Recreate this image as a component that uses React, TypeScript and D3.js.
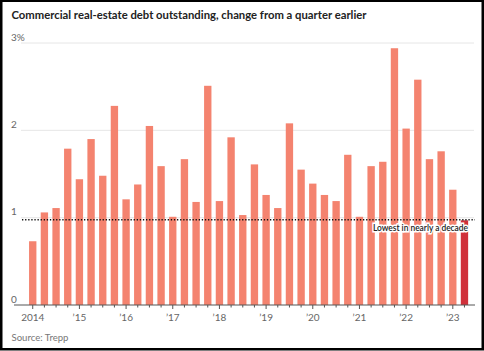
import React, { useEffect, useRef } from 'react';
import * as d3 from 'd3';

// quarterly change in CRE debt outstanding, %, 2014 Q1 .. 2023 Q2
const quarters = [
  '2014 Q1', '2014 Q2', '2014 Q3', '2014 Q4',
  '2015 Q1', '2015 Q2', '2015 Q3', '2015 Q4',
  '2016 Q1', '2016 Q2', '2016 Q3', '2016 Q4',
  '2017 Q1', '2017 Q2', '2017 Q3', '2017 Q4',
  '2018 Q1', '2018 Q2', '2018 Q3', '2018 Q4',
  '2019 Q1', '2019 Q2', '2019 Q3', '2019 Q4',
  '2020 Q1', '2020 Q2', '2020 Q3', '2020 Q4',
  '2021 Q1', '2021 Q2', '2021 Q3', '2021 Q4',
  '2022 Q1', '2022 Q2', '2022 Q3', '2022 Q4',
  '2023 Q1', '2023 Q2',
];
const changes = [
  0.73, 1.06, 1.11, 1.79,
  1.44, 1.9, 1.48, 2.28,
  1.21, 1.38, 2.05, 1.59,
  1.01, 1.67, 1.18, 2.51,
  1.19, 1.92, 1.03, 1.61,
  1.26, 1.11, 2.08, 1.55,
  1.39, 1.26, 1.19, 1.72,
  1.01, 1.59, 1.64, 2.94,
  2.02, 2.58, 1.67, 1.76,
  1.32, 0.97,
];
const yearLabels = ['2014', '’15', '’16', '’17', '’18', '’19', '’20', '’21', '’22', '’23'];
const yTicks = [0, 1, 2, 3];
const title = 'Commercial real-estate debt outstanding, change from a quarter earlier';
const source = 'Source: Trepp';
const note = 'Lowest in nearly a decade';

const App = () => {
  const svgRef = useRef<SVGSVGElement>(null);

  useEffect(() => {
    const svg = d3.select(svgRef.current);
    svg.selectAll('*').remove();

    const width = 484;
    const height = 351;
    const font = 'Lato, "Noto Sans", sans-serif';

    svg.append('rect')
      .attr('width', width)
      .attr('height', height)
      .attr('fill', '#fff');

    const x = d3.scaleBand()
      .domain(quarters)
      .range([26.9, 470.3])
      .paddingInner(0.37)
      .paddingOuter(0.185);

    const y = d3.scaleLinear()
      .domain([0, 3])
      .range([305, 43]);

    // gridlines + y labels
    svg.append('g')
      .selectAll('line')
      .data(yTicks.filter(d => d > 0))
      .enter()
      .append('line')
      .attr('x1', 21)
      .attr('x2', 474)
      .attr('y1', d => y(d))
      .attr('y2', d => y(d))
      .attr('stroke', '#e6e6e6')
      .attr('stroke-width', 1);

    svg.append('g')
      .selectAll('text')
      .data(yTicks)
      .enter()
      .append('text')
      .attr('x', 11)
      .attr('y', d => y(d) - 2.5)
      .style('font-family', font)
      .style('font-size', '10px')
      .style('fill', '#666')
      .text(d => (d === 3 ? '3%' : String(d)));

    // bars
    svg.append('g')
      .selectAll('rect')
      .data(changes)
      .enter()
      .append('rect')
      .attr('x', (d, i) => x(quarters[i]))
      .attr('width', x.bandwidth())
      .attr('y', d => y(d))
      .attr('height', d => y(0) - y(d))
      .attr('fill', (d, i) => (i === changes.length - 1 ? '#d0303a' : '#f4836f'));

    // x axis
    const axis = svg.append('g');
    axis.append('line')
      .attr('x1', 14)
      .attr('x2', 475)
      .attr('y1', y(0))
      .attr('y2', y(0))
      .attr('stroke', '#555')
      .attr('stroke-width', 1);

    axis.selectAll('.tick')
      .data(quarters)
      .enter()
      .append('line')
      .attr('class', 'tick')
      .attr('x1', d => x(d) + x.bandwidth() / 2)
      .attr('x2', d => x(d) + x.bandwidth() / 2)
      .attr('y1', y(0))
      .attr('y2', d => y(0) + (d.endsWith('Q1') ? 4 : 2.5))
      .attr('stroke', '#555')
      .attr('stroke-width', 1);

    const firstQs = quarters.filter(q => q.endsWith('Q1'));
    axis.selectAll('.year')
      .data(firstQs)
      .enter()
      .append('text')
      .attr('class', 'year')
      .attr('x', d => x(d) + x.bandwidth() / 2)
      .attr('y', 321)
      .attr('text-anchor', 'middle')
      .style('font-family', font)
      .style('font-size', '10px')
      .style('fill', '#666')
      .text((d, i) => yearLabels[i]);

    // reference dotted line at latest value
    const last = changes[changes.length - 1];
    svg.append('line')
      .attr('x1', 22)
      .attr('x2', 475)
      .attr('y1', y(last) - 0.5)
      .attr('y2', y(last) - 0.5)
      .attr('stroke', '#111')
      .attr('stroke-width', 1.4)
      .attr('stroke-dasharray', '1.3,1.8');

    svg.append('text')
      .attr('x', 468)
      .attr('y', y(last) + 11)
      .attr('text-anchor', 'end')
      .attr('textLength', 95)
      .attr('lengthAdjust', 'spacingAndGlyphs')
      .style('font-family', font)
      .style('font-size', '9.5px')
      .style('font-weight', 600)
      .style('fill', '#222')
      .style('stroke', '#fff')
      .style('stroke-width', '3px')
      .style('paint-order', 'stroke')
      .text(note);

    // title + source
    svg.append('text')
      .attr('x', 11.5)
      .attr('y', 18.5)
      .attr('textLength', 355)
      .attr('lengthAdjust', 'spacingAndGlyphs')
      .style('font-family', font)
      .style('font-size', '11px')
      .style('font-weight', 700)
      .style('fill', '#222')
      .text(title);

    svg.append('text')
      .attr('x', 11.5)
      .attr('y', 341)
      .attr('textLength', 57)
      .attr('lengthAdjust', 'spacingAndGlyphs')
      .style('font-family', font)
      .style('font-size', '10px')
      .style('fill', '#777')
      .text(source);

    // outer frame
    svg.append('rect')
      .attr('x', 1.25)
      .attr('y', 0.75)
      .attr('width', width - 2.5)
      .attr('height', height - 2.5)
      .attr('fill', 'none')
      .attr('stroke', '#000')
      .attr('stroke-width', 2.5);
  }, []);

  return (
    <>
      <style>{'body{margin:0}'}</style>
      <svg ref={svgRef} width={484} height={351} style={{ display: 'block' }} />
    </>
  );
};

export default App;
